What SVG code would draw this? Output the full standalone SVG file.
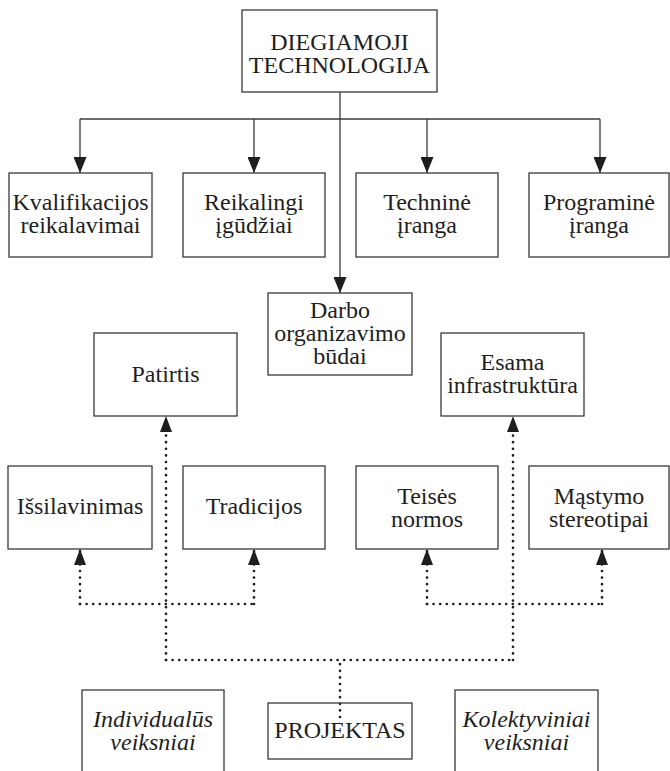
<svg xmlns="http://www.w3.org/2000/svg" width="670" height="771" viewBox="0 0 670 771">
  <style>
    .box { fill: #ffffff; stroke: #3a3a3a; stroke-width: 1.3; }
    .lbl { font-family: "Liberation Serif", "Times New Roman", serif; font-size: 24px; fill: #1e1e1e; text-anchor: middle; }
    .it { font-style: italic; }
    .solid { fill: none; stroke: #3a3a3a; stroke-width: 1.3; }
    .dot { fill: none; stroke: #1e1e1e; stroke-width: 2.7; stroke-linecap: round; stroke-dasharray: 0 6.6; }
  </style>
  <defs>
    <marker id="arrow" markerUnits="userSpaceOnUse" viewBox="0 0 16 13" refX="16" refY="6.5" markerWidth="16" markerHeight="13" orient="auto">
      <path d="M0,0 L16,6.5 L0,13 z" fill="#1e1e1e"/>
    </marker>
    <marker id="arrowDot" markerUnits="userSpaceOnUse" viewBox="0 0 16 12" refX="16" refY="6" markerWidth="16" markerHeight="12" orient="auto">
      <path d="M0,0 L16,6 L0,12 z" fill="#1e1e1e"/>
    </marker>
  </defs>
  <rect width="670" height="771" fill="#ffffff"/>

  <!-- connectors -->
  <g id="connectors">
    <path class="solid" d="M340,92 V293" marker-end="url(#arrow)"/>
    <path class="solid" d="M80,119 H600"/>
    <path class="solid" d="M80,119 V173" marker-end="url(#arrow)"/>
    <path class="solid" d="M254,119 V173" marker-end="url(#arrow)"/>
    <path class="solid" d="M427,119 V173" marker-end="url(#arrow)"/>
    <path class="solid" d="M600,119 V173" marker-end="url(#arrow)"/>

    <path class="dot" d="M340,717 V660"/>
    <path class="dot" d="M166,660 H513"/>
    <path class="dot" d="M166,660 V416" marker-end="url(#arrowDot)"/>
    <path class="dot" d="M513,660 V416" marker-end="url(#arrowDot)"/>
    <path class="dot" d="M80,604 H254"/>
    <path class="dot" d="M80,604 V549" marker-end="url(#arrowDot)"/>
    <path class="dot" d="M254,604 V549" marker-end="url(#arrowDot)"/>
    <path class="dot" d="M427,604 H602"/>
    <path class="dot" d="M427,604 V549" marker-end="url(#arrowDot)"/>
    <path class="dot" d="M602,604 V549" marker-end="url(#arrowDot)"/>
  </g>

  <g id="diegiamoji">
    <rect class="box" x="242" y="10" width="195" height="82"/>
    <text class="lbl" x="339.5" y="50">DIEGIAMOJI</text>
    <text class="lbl" x="339.5" y="73">TECHNOLOGIJA</text>
  </g>

  <g id="kvalifikacijos">
    <rect class="box" x="9" y="173" width="143" height="84"/>
    <text class="lbl" x="80.5" y="210">Kvalifikacijos</text>
    <text class="lbl" x="80.5" y="233">reikalavimai</text>
  </g>
  <g id="igudziai">
    <rect class="box" x="183" y="173" width="142" height="84"/>
    <text class="lbl" x="254" y="210">Reikalingi</text>
    <text class="lbl" x="254" y="233">įgūdžiai</text>
  </g>
  <g id="technine">
    <rect class="box" x="356" y="173" width="142" height="84"/>
    <text class="lbl" x="427" y="210">Techninė</text>
    <text class="lbl" x="427" y="233">įranga</text>
  </g>
  <g id="programine">
    <rect class="box" x="529" y="173" width="140" height="84"/>
    <text class="lbl" x="599" y="210">Programinė</text>
    <text class="lbl" x="599" y="233">įranga</text>
  </g>

  <g id="darbo">
    <rect class="box" x="268" y="293" width="144" height="82"/>
    <text class="lbl" x="340" y="318">Darbo</text>
    <text class="lbl" x="340" y="341">organizavimo</text>
    <text class="lbl" x="340" y="364">būdai</text>
  </g>

  <g id="patirtis">
    <rect class="box" x="94" y="333" width="143" height="83"/>
    <text class="lbl" x="165.5" y="382">Patirtis</text>
  </g>
  <g id="infrastruktura">
    <rect class="box" x="441" y="333" width="143" height="83"/>
    <text class="lbl" x="512.5" y="370">Esama</text>
    <text class="lbl" x="512.5" y="393">infrastruktūra</text>
  </g>

  <g id="issilavinimas">
    <rect class="box" x="8" y="466" width="144" height="83"/>
    <text class="lbl" x="80" y="514">Išsilavinimas</text>
  </g>
  <g id="tradicijos">
    <rect class="box" x="183" y="466" width="142" height="83"/>
    <text class="lbl" x="254" y="514">Tradicijos</text>
  </g>
  <g id="teises">
    <rect class="box" x="356" y="466" width="142" height="83"/>
    <text class="lbl" x="427" y="504">Teisės</text>
    <text class="lbl" x="427" y="527">normos</text>
  </g>
  <g id="mastymo">
    <rect class="box" x="529" y="466" width="140" height="83"/>
    <text class="lbl" x="599" y="504">Mąstymo</text>
    <text class="lbl" x="599" y="527">stereotipai</text>
  </g>

  <g id="individualus">
    <rect class="box" x="82" y="690" width="142" height="110"/>
    <text class="lbl it" x="153" y="727">Individualūs</text>
    <text class="lbl it" x="153" y="750">veiksniai</text>
  </g>
  <g id="projektas">
    <rect class="box" x="268" y="703" width="144" height="56" fill-opacity="0"/>
    <text class="lbl" x="340" y="738">PROJEKTAS</text>
  </g>
  <g id="kolektyviniai">
    <rect class="box" x="455" y="690" width="143" height="110"/>
    <text class="lbl it" x="526.5" y="727">Kolektyviniai</text>
    <text class="lbl it" x="526.5" y="750">veiksniai</text>
  </g>
</svg>
